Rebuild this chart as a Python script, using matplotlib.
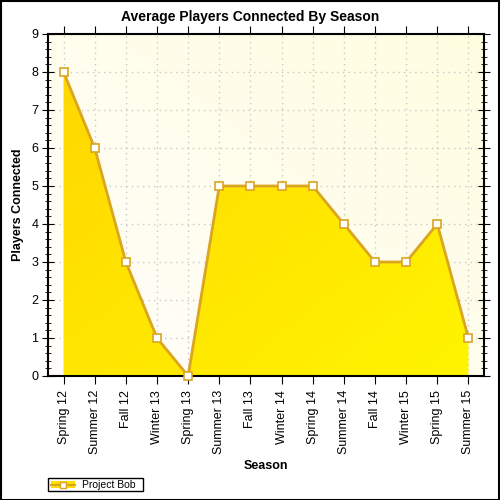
import numpy as np
import matplotlib
matplotlib.use("Agg")
import matplotlib.pyplot as plt
from matplotlib.colors import LinearSegmentedColormap
from matplotlib.patches import Polygon, Rectangle
from matplotlib.lines import Line2D

seasons = ["Spring 12", "Summer 12", "Fall 12", "Winter 13", "Spring 13", "Summer 13",
           "Fall 13", "Winter 14", "Spring 14", "Summer 14", "Fall 14", "Winter 15",
           "Spring 15", "Summer 15"]
players = [8, 6, 3, 1, 0, 5, 5, 5, 5, 4, 3, 3, 4, 1]
series_name = "Project Bob"

plt.rcParams['font.family'] = ['Liberation Sans', 'DejaVu Sans']

fig = plt.figure(figsize=(5, 5), dpi=100)
ax = fig.add_axes([48/500, 1-376/500, (484-48)/500, (376-34)/500])

x = np.arange(len(seasons))
ax.set_xlim(-0.5, len(seasons) - 0.5)
ax.set_ylim(0, 9)

yy, xx = np.mgrid[0:1:50j, 0:1:50j]
bg = (xx + (1 - yy)) / 2
bg_cmap = LinearSegmentedColormap.from_list("bg", ["#fffdfa", "#fffde0"])
ax.imshow(bg, extent=(-0.5, len(seasons) - 0.5, 0, 9), origin="upper", aspect="auto",
          cmap=bg_cmap, zorder=0)

fill_cmap = LinearSegmentedColormap.from_list("fill", ["#ffd500", "#fff500"])
grad = (xx + yy) / 2
im = ax.imshow(grad, extent=(-0.5, len(seasons) - 0.5, 0, 9), origin="upper", aspect="auto",
               cmap=fill_cmap, zorder=2)
verts = [(x[0], 0)] + list(zip(x, players)) + [(x[-1], 0)]
poly = Polygon(verts, closed=True, facecolor="none", edgecolor="none", transform=ax.transData)
ax.add_patch(poly)
im.set_clip_path(poly)

ax.plot(x, players, color="#daa520", lw=2, zorder=3, solid_joinstyle="miter")
ax.plot(x, players, ls="none", marker="s", ms=5.5, mfc="white", mec="#daa520", mew=1.2,
        zorder=4, clip_on=False)

ax.set_xticks(x)
ax.set_xticklabels(seasons, rotation=90, fontsize=9)
ax.set_yticks(range(0, 10))
ax.set_yticks(np.arange(0, 9.01, 0.2), minor=True)
ax.tick_params(axis="y", which="major", direction="inout", length=8, labelsize=9, pad=3,
               right=True)
ax.tick_params(axis="y", which="minor", direction="inout", length=5, right=True)
ax.tick_params(axis="x", which="major", direction="out", length=6, labelsize=9, pad=4,
               top=True)
ax.grid(True, which="major", color="#c8c8c8", ls=(0, (1, 3)), lw=1, zorder=1)
for s in ax.spines.values():
    s.set_linewidth(1.5)

fig.text(0.5, 1-17/500, "Average Players Connected By Season", fontsize=10, fontweight="bold",
         ha="center", va="center")
ax.set_xlabel("Season", fontsize=9, fontweight="bold", labelpad=4)
ax.set_ylabel("Players Connected", fontsize=9, fontweight="bold", labelpad=5)

# legend
lx0, ly0, lw, lh = 48/500, 1-491/500, 95/500, 13/500
fig.patches.append(Rectangle((lx0, ly0), lw, lh, transform=fig.transFigure,
                             facecolor="white", edgecolor="black", lw=1))
fig.patches.append(Rectangle((51/500, 1-488/500), 24/500, 7/500, transform=fig.transFigure,
                             facecolor="#ffe000", edgecolor="none"))
fig.lines.append(Line2D([51/500, 75/500], [1-484.5/500, 1-484.5/500], transform=fig.transFigure,
                        color="#daa520", lw=1.5))
fig.lines.append(Line2D([63/500], [1-484.5/500], transform=fig.transFigure, ls="none",
                        marker="s", ms=5, mfc="white", mec="#daa520", mew=1))
fig.text(82/500, 1-484.5/500, series_name, fontsize=7.5, va="center", ha="left")

fig.patches.append(Rectangle((0.001, 0.001), 0.997, 0.997, transform=fig.transFigure,
                             facecolor="none", edgecolor="black", lw=1.5))

fig.savefig("out.png", dpi=100)
